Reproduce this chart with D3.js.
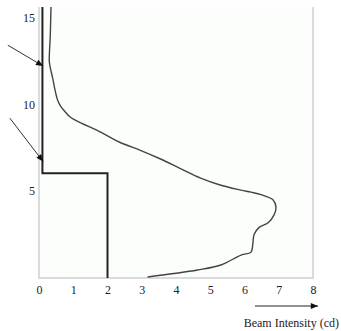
<!DOCTYPE html>
<html>
<head>
<meta charset="utf-8">
<script src="https://cdn.jsdelivr.net/npm/d3@7"></script>
<style>
  body { margin: 0; background: #fff; }
  text { font-family: "Liberation Serif", "Times New Roman", serif; fill: #222; }
</style>
</head>
<body>
<svg id="chart" width="341" height="331"></svg>
<script>
// beam intensity profile (cd) vs height
let curveX = [0.35, 0.33, 0.30, 0.32, 0.40, 0.47, 0.55, 0.63, 0.75, 0.92, 1.25, 1.7, 2.37, 2.96, 3.55, 4.13, 4.72, 5.31, 5.9, 6.19, 6.48, 6.83, 6.92, 6.86, 6.69, 6.42, 6.28, 6.24, 6.19, 5.9, 5.31, 4.63, 3.17];
let curveY = [15.6, 14.0, 12.5, 12.2, 11.5, 10.8, 10.2, 9.9, 9.6, 9.25, 8.9, 8.5, 7.8, 7.35, 6.85, 6.3, 5.75, 5.34, 5.06, 4.94, 4.8, 4.5, 4.08, 3.62, 3.18, 2.9, 2.5, 1.9, 1.49, 1.32, 0.75, 0.46, 0.06];
// step limit line
let stepX = [0.1, 0.1, 2, 2];
let stepY = [15.6, 6.03, 6.03, 0];
let xTicks = [0, 1, 2, 3, 4, 5, 6, 7, 8];
let yTicks = [5, 10, 15];
// annotation arrows [x0, y0, x1, y1] in data units
let arrows = [[-0.91, 13.4, 0.12, 12.2], [-0.85, 9.2, 0.12, 6.7]];
let xLabel = 'Beam Intensity (cd)';

let svg = d3.select('#chart');
let x = d3.scaleLinear().domain([0, 8]).range([39, 313]);
let y = d3.scaleLinear().domain([0, 15.6]).range([278, 7]);

svg.append('defs').append('marker')
    .attr('id', 'head')
    .attr('viewBox', '0 0 12 10')
    .attr('refX', 12).attr('refY', 5)
    .attr('markerWidth', 12).attr('markerHeight', 6)
    .attr('markerUnits', 'userSpaceOnUse')
    .attr('orient', 'auto')
    .append('path').attr('d', 'M0,0L12,5L0,10Z').attr('fill', '#111');

// frame
svg.append('rect')
    .attr('x', x(0)).attr('y', y(15.6))
    .attr('width', x(8) - x(0)).attr('height', y(0) - y(15.6))
    .attr('fill', '#fcfefc');
svg.append('path')
    .attr('d', `M${x(0)},${y(15.6)}V${y(0)}H${x(8)}V${y(15.6)}`)
    .attr('fill', 'none').attr('stroke', '#d0d0d0').attr('stroke-width', 1.5);

let xAxis = d3.axisBottom(x).tickValues(xTicks).tickSize(0).tickPadding(7);
svg.append('g').attr('transform', `translate(0,${y(0)})`).call(xAxis)
    .attr('font-family', null)
    .call(g => g.select('.domain').remove())
    .selectAll('text').style('font-size', '12px').attr('fill', '#222');

let yAxis = d3.axisLeft(y).tickValues(yTicks).tickSize(0).tickPadding(4);
svg.append('g').attr('transform', `translate(${x(0)},0)`).call(yAxis)
    .attr('font-family', null)
    .call(g => g.select('.domain').remove())
    .selectAll('text').style('font-size', '12px').attr('fill', '#222');

// intensity curve
let pts = curveX.map((v, i) => [v, curveY[i]]);
svg.append('path')
    .datum(pts)
    .attr('d', d3.line().x(d => x(d[0])).y(d => y(d[1])).curve(d3.curveCatmullRom))
    .attr('fill', 'none').attr('stroke', '#444').attr('stroke-width', 1.4);

// step line
let step = stepX.map((v, i) => [v, stepY[i]]);
svg.append('path')
    .datum(step)
    .attr('d', d3.line().x(d => x(d[0])).y(d => y(d[1])))
    .attr('fill', 'none').attr('stroke', '#222').attr('stroke-width', 2);

// annotation arrows
svg.selectAll('.arr').data(arrows).join('line')
    .attr('class', 'arr')
    .attr('x1', d => x(d[0])).attr('y1', d => y(d[1]))
    .attr('x2', d => x(d[2])).attr('y2', d => y(d[3]))
    .attr('stroke', '#333').attr('stroke-width', 1)
    .attr('marker-end', 'url(#head)');

// axis label arrow
svg.append('line')
    .attr('x1', 255).attr('y1', 306).attr('x2', 318).attr('y2', 306)
    .attr('stroke', '#222').attr('stroke-width', 1)
    .attr('marker-end', 'url(#head)');
svg.append('text')
    .attr('x', 339).attr('y', 327)
    .attr('text-anchor', 'end')
    .style('font-size', '12px')
    .text(xLabel);
</script>
</body>
</html>
